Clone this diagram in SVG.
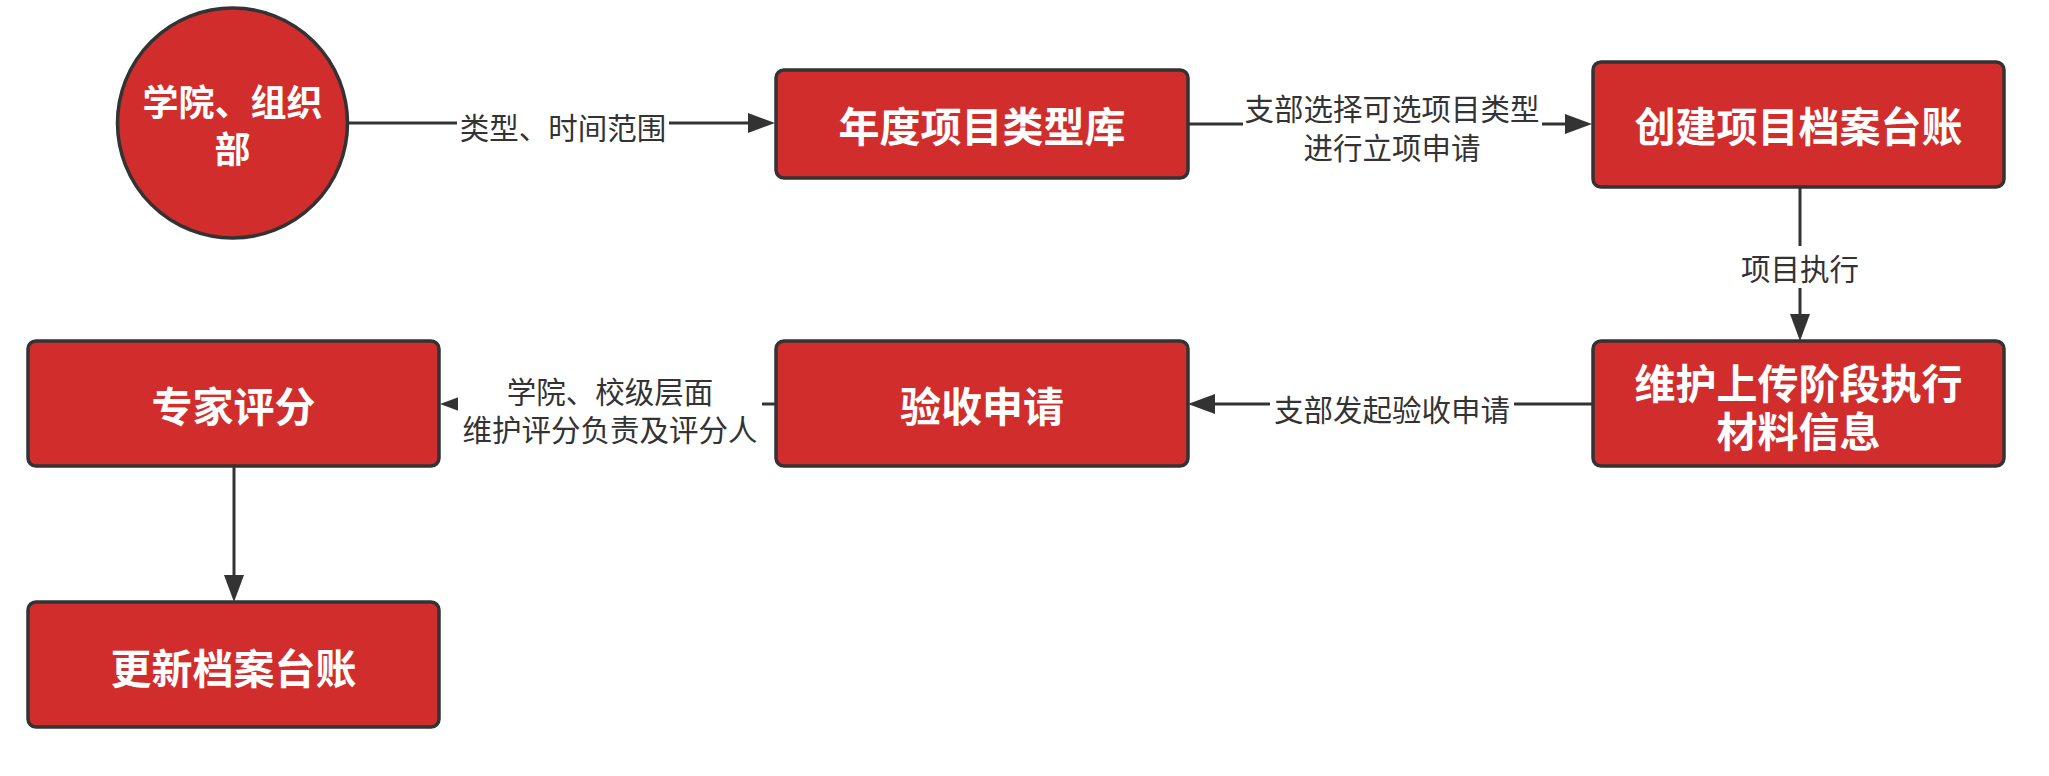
<svg xmlns="http://www.w3.org/2000/svg" width="2049" height="776" viewBox="0 0 2049 776">
<style>
.node{fill:#D22D2D;stroke:#333333;stroke-width:3.5}
.nt{font-family:"Noto Sans CJK SC","Noto Sans CJK TC",sans-serif;font-weight:bold;fill:#FFFFFF;text-anchor:middle;dominant-baseline:central}
.edge{fill:none;stroke:#333333;stroke-width:3}
.lbg{fill:#FFFFFF}
.lt{font-family:"Noto Sans CJK SC","Noto Sans CJK TC",sans-serif;font-size:29.5px;fill:#333333;text-anchor:middle;dominant-baseline:central}
</style>
<defs>
<marker id="arr" markerUnits="userSpaceOnUse" markerWidth="28" markerHeight="20" refX="17" refY="10" orient="auto" viewBox="0 0 28 20">
<path d="M0,0 L27,10 L0,20 Z" fill="#333333"/>
</marker>
</defs>
<rect width="2049" height="776" fill="#FFFFFF"/>
<g id="connectors">
<path class="edge" d="M348,123 H765" marker-end="url(#arr)"/>
<path class="edge" d="M1188,124 H1582" marker-end="url(#arr)"/>
<path class="edge" d="M1800,187 V331" marker-end="url(#arr)"/>
<path class="edge" d="M1593,404 H1198" marker-end="url(#arr)"/>
<path class="edge" d="M776,404 H450" marker-end="url(#arr)"/>
<path class="edge" d="M234,466 V592" marker-end="url(#arr)"/>
<g id="label-1">
<rect class="lbg" x="457" y="108" width="212" height="38"/>
<text class="lt" x="563" y="126">类型、时间范围</text>
</g>
<g id="label-2">
<rect class="lbg" x="1243" y="88" width="299" height="78"/>
<text class="lt" x="1392" y="107">支部选择可选项目类型<tspan x="1392" y="146">进行立项申请</tspan></text>
</g>
<g id="label-3">
<rect class="lbg" x="1738" y="246" width="124" height="42"/>
<text class="lt" x="1800" y="267">项目执行</text>
</g>
<g id="label-4">
<rect class="lbg" x="1270" y="389" width="244" height="38"/>
<text class="lt" x="1392" y="408">支部发起验收申请</text>
</g>
<g id="label-5">
<rect class="lbg" x="458" y="370" width="304" height="77"/>
<text class="lt" x="610" y="390">学院、校级层面<tspan x="610" y="428">维护评分负责及评分人</tspan></text>
</g>
</g>
<g id="node-xueyuan">
<circle class="node" cx="232.5" cy="123" r="115"/>
<text class="nt" x="232.5" y="100" font-size="36">学院、组织<tspan x="232.5" y="147">部</tspan></text>
</g>
<g id="node-niandu">
<rect class="node" x="776" y="70" width="412" height="108" rx="8"/>
<text class="nt" x="982" y="124" font-size="41">年度项目类型库</text>
</g>
<g id="node-chuangjian">
<rect class="node" x="1593" y="62" width="411" height="125" rx="8"/>
<text class="nt" x="1798.5" y="124" font-size="41">创建项目档案台账</text>
</g>
<g id="node-weihu">
<rect class="node" x="1593" y="341" width="411" height="125" rx="8"/>
<text class="nt" x="1798.5" y="381" font-size="41">维护上传阶段执行<tspan x="1798.5" y="429">材料信息</tspan></text>
</g>
<g id="node-yanshou">
<rect class="node" x="776" y="341" width="412" height="125" rx="8"/>
<text class="nt" x="982" y="404" font-size="41">验收申请</text>
</g>
<g id="node-zhuanjia">
<rect class="node" x="28" y="341" width="411" height="125" rx="8"/>
<text class="nt" x="233.5" y="404" font-size="41">专家评分</text>
</g>
<g id="node-gengxin">
<rect class="node" x="28" y="602" width="411" height="125" rx="8"/>
<text class="nt" x="233.5" y="666" font-size="41">更新档案台账</text>
</g>
</svg>
